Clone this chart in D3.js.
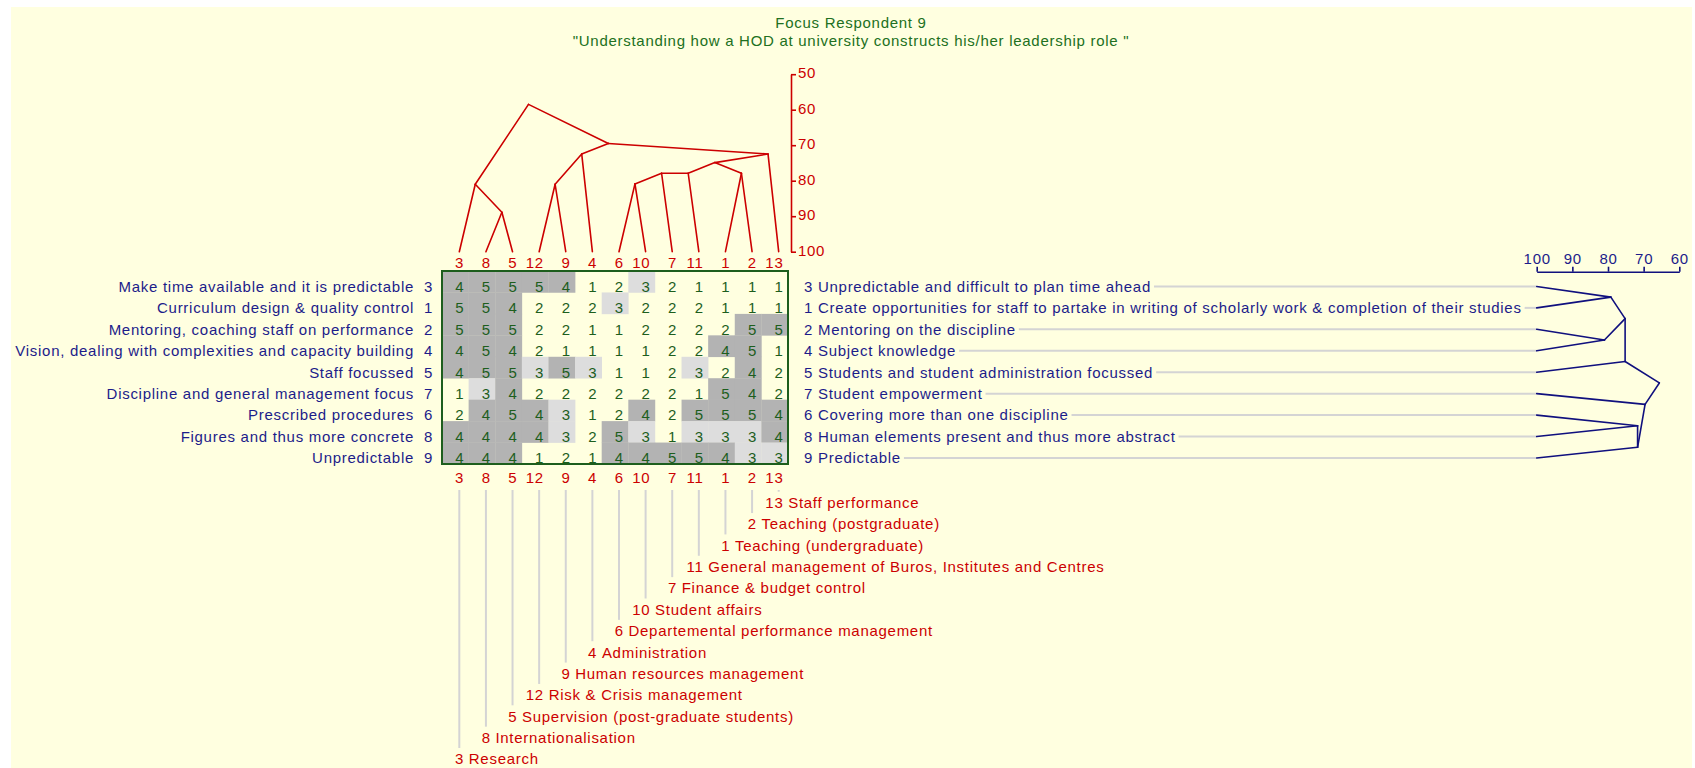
<!DOCTYPE html>
<html>
<head>
<meta charset="utf-8">
<script src="https://cdn.jsdelivr.net/npm/d3@7"></script>
<style>
  html, body { margin: 0; padding: 0; background: #ffffff; }
  svg text { font-family: "Liberation Sans", Arial, sans-serif; font-size: 15px; letter-spacing: 0.72px; }
</style>
</head>
<body>
<svg id="chart" width="1695" height="768"></svg>
<script>
// ---- Grid data -------------------------------------------------------------
const titleLines = ["Focus Respondent 9", "\"Understanding how a HOD at university constructs his/her leadership role \""];

// Elements (columns) in cluster order
const elementIds = [3, 8, 5, 12, 9, 4, 6, 10, 7, 11, 1, 2, 13];
const elementNames = [
  "Research", "Internationalisation", "Supervision (post-graduate students)",
  "Risk & Crisis management", "Human resources management", "Administration",
  "Departemental performance management", "Student affairs", "Finance & budget control",
  "General management of Buros, Institutes and Centres", "Teaching (undergraduate)",
  "Teaching (postgraduate)", "Staff performance"
];

// Constructs (rows) in cluster order
const constructIds = [3, 1, 2, 4, 5, 7, 6, 8, 9];
const leftPoles = [
  "Make time available and it is predictable", "Curriculum design & quality control",
  "Mentoring, coaching staff on performance", "Vision, dealing with complexities and capacity building",
  "Staff focussed", "Discipline and general management focus", "Prescribed procedures",
  "Figures and thus more concrete", "Unpredictable"
];
const rightPoles = [
  "Unpredictable and difficult to plan time ahead",
  "Create opportunities for staff to partake in writing of scholarly work & completion of their studies",
  "Mentoring on the discipline", "Subject knowledge", "Students and student administration focussed",
  "Student empowerment", "Covering more than one discipline",
  "Human elements present and thus more abstract", "Predictable"
];

// Ratings: one row per construct, one column per element
const ratings = [
  [4, 5, 5, 5, 4, 1, 2, 3, 2, 1, 1, 1, 1],
  [5, 5, 4, 2, 2, 2, 3, 2, 2, 2, 1, 1, 1],
  [5, 5, 5, 2, 2, 1, 1, 2, 2, 2, 2, 5, 5],
  [4, 5, 4, 2, 1, 1, 1, 1, 2, 2, 4, 5, 1],
  [4, 5, 5, 3, 5, 3, 1, 1, 2, 3, 2, 4, 2],
  [1, 3, 4, 2, 2, 2, 2, 2, 2, 1, 5, 4, 2],
  [2, 4, 5, 4, 3, 1, 2, 4, 2, 5, 5, 5, 4],
  [4, 4, 4, 4, 3, 2, 5, 3, 1, 3, 3, 3, 4],
  [4, 4, 4, 1, 2, 1, 4, 4, 5, 5, 4, 3, 3]
];

// Element cluster joins: [node, left, right, % similarity]
const elementJoins = [
  ["B", "8", "5", 88.9],
  ["A", "3", "B", 81.0],
  ["C", "12", "9", 81.0],
  ["D", "C", "4", 72.5],
  ["K", "6", "10", 80.9],
  ["L", "K", "7", 77.9],
  ["M", "L", "11", 77.9],
  ["J", "1", "2", 77.9],
  ["H", "M", "J", 74.9],
  ["G", "H", "13", 72.5],
  ["F", "D", "G", 69.5],
  ["E", "A", "F", 58.5]
];

// Construct cluster joins: [node, left, right, % similarity]
const constructJoins = [
  ["P", "3", "1", 79.2],
  ["Q", "2", "4", 81.0],
  ["R", "P", "Q", 75.2],
  ["S", "R", "5", 75.2],
  ["W", "6", "8", 71.7],
  ["V", "W", "9", 71.7],
  ["U", "7", "V", 69.6],
  ["T", "S", "U", 65.6]
];

const similarityTicks = [50, 60, 70, 80, 90, 100];
const rightTicks = [100, 90, 80, 70, 60];

// ---- Colours ---------------------------------------------------------------
const RED = "#cc0000", NAVY = "#1c1c8a", LINE_NAVY = "#10107e", GREEN = "#1d5e1d",
      TITLE_GREEN = "#217021", PALE = "#d4d4d4", DARK_CELL = "#b3b3b3", LIGHT_CELL = "#dddddd";
const FONT = "\"Liberation Sans\", Arial, sans-serif";

// ---- Scales ----------------------------------------------------------------
const svg = d3.select("#chart");
const nCol = elementIds.length, nRow = constructIds.length;
const xCol = d3.scaleLinear().domain([0, nCol]).range([442, 788]);
const yRow = d3.scaleLinear().domain([0, nRow]).range([271, 464]);
const yTop = d3.scaleLinear().domain([50, 100]).range([74.2, 251.7]);
const xRight = d3.scaleLinear().domain([100, 60]).range([1536.7, 1679.3]);
const colX = i => xCol(i + 0.65);
const rowY = i => yRow(i + 0.72);
const fill = d3.scaleThreshold().domain([3, 4]).range(["none", LIGHT_CELL, DARK_CELL]);

// Background panel
svg.append("rect").attr("x", 11).attr("y", 7).attr("width", 1681).attr("height", 761).attr("fill", "#ffffe0");

// Title
svg.selectAll("text.title").data(titleLines).join("text")
  .attr("class", "title")
  .attr("x", 851).attr("y", (d, i) => 27.5 + i * 18.7)
  .attr("text-anchor", "middle").attr("fill", TITLE_GREEN)
  .text(d => d);

// ---- Rating grid -----------------------------------------------------------
const cells = [];
ratings.forEach((row, r) => row.forEach((v, c) => cells.push({ r, c, v })));

svg.append("g").selectAll("rect").data(cells.filter(d => d.v >= 3)).join("rect")
  .attr("x", d => xCol(d.c)).attr("y", d => yRow(d.r))
  .attr("width", xCol(1) - xCol(0) + 0.3).attr("height", yRow(1) - yRow(0) + 0.3)
  .attr("fill", d => fill(d.v));

svg.append("g").selectAll("text").data(cells).join("text")
  .attr("x", d => colX(d.c) + 0.4).attr("y", d => rowY(d.r) + 5.3)
  .attr("text-anchor", "middle").attr("fill", GREEN)
  .text(d => d.v);

svg.append("rect")
  .attr("x", xCol(0)).attr("y", yRow(0))
  .attr("width", xCol(nCol) - xCol(0)).attr("height", yRow(nRow) - yRow(0))
  .attr("fill", "none").attr("stroke", GREEN).attr("stroke-width", 2);

// ---- Row labels ------------------------------------------------------------
const rowsG = svg.append("g");
rowsG.selectAll("text.lp").data(leftPoles).join("text")
  .attr("class", "lp").attr("x", 414).attr("y", (d, i) => rowY(i) + 5.3)
  .attr("text-anchor", "end").attr("fill", NAVY).text(d => d);
rowsG.selectAll("text.ln").data(constructIds).join("text")
  .attr("class", "ln").attr("x", 433).attr("y", (d, i) => rowY(i) + 5.3)
  .attr("text-anchor", "end").attr("fill", NAVY).text(d => d);

const rightText = rowsG.selectAll("text.rp").data(rightPoles).join("text")
  .attr("class", "rp").attr("x", 804).attr("y", (d, i) => rowY(i) + 5.3)
  .attr("fill", NAVY).text((d, i) => constructIds[i] + " " + d);

// Leader lines from the right-hand poles to the construct tree
rightText.each(function (d, i) {
  const end = 804 + this.getComputedTextLength() + 3;
  if (end < xRight(100) - 2) {
    rowsG.append("line")
      .attr("x1", end).attr("x2", xRight(100))
      .attr("y1", rowY(i)).attr("y2", rowY(i))
      .attr("stroke", PALE).attr("stroke-width", 2);
  }
});

// ---- Column labels ---------------------------------------------------------
const colsG = svg.append("g");
colsG.selectAll("text.ct").data(elementIds).join("text")
  .attr("x", (d, i) => colX(i) + 4.8).attr("y", 268)
  .attr("text-anchor", "end").attr("fill", RED).text(d => d);
colsG.selectAll("text.cb").data(elementIds).join("text")
  .attr("x", (d, i) => colX(i) + 4.8).attr("y", 483)
  .attr("text-anchor", "end").attr("fill", RED).text(d => d);

const labelY = i => 502.7 + (nCol - 1 - i) * 21.36;
colsG.selectAll("line.drop").data(elementIds).join("line")
  .attr("x1", (d, i) => colX(i)).attr("x2", (d, i) => colX(i))
  .attr("y1", 490).attr("y2", (d, i) => labelY(i) - 11)
  .attr("stroke", PALE).attr("stroke-width", 2);
colsG.selectAll("text.en").data(elementIds).join("text")
  .attr("x", (d, i) => colX(i) + 4.8).attr("y", (d, i) => labelY(i) + 5.3)
  .attr("text-anchor", "end").attr("fill", RED).text(d => d);
colsG.selectAll("text.et").data(elementNames).join("text")
  .attr("x", (d, i) => colX(i) + 9.5).attr("y", (d, i) => labelY(i) + 5.3)
  .attr("fill", RED).text(d => d);

// ---- Dendrograms -----------------------------------------------------------
// Builds node positions: leaves sit at their column/row; a join sits just past
// the last leaf of its left branch, at its similarity level.
function layout(joins, ids) {
  const nodes = {};
  ids.forEach((id, i) => { nodes[String(id)] = { leaf: true, idx: i, last: i, level: 100 }; });
  joins.forEach(([name, a, b, level]) => {
    nodes[name] = { leaf: false, a, b, level, last: nodes[b].last, split: nodes[a].last };
  });
  return nodes;
}

// Element tree (top, vertical similarity axis)
const eNodes = layout(elementJoins, elementIds);
const ePos = n => n.leaf ? [colX(n.idx), yTop(100)] : [xCol(n.split + 1.25), yTop(n.level)];
const eSegs = [];
elementJoins.forEach(([name, a, b]) => {
  [a, b].forEach(ch => eSegs.push([ePos(eNodes[name]), ePos(eNodes[ch])]));
});
svg.append("g").selectAll("line").data(eSegs).join("line")
  .attr("x1", d => d[0][0]).attr("y1", d => d[0][1])
  .attr("x2", d => d[1][0]).attr("y2", d => d[1][1])
  .attr("stroke", RED).attr("stroke-width", 1.6).attr("stroke-linecap", "round");

const topAxis = svg.append("g").attr("transform", "translate(791,0)")
  .call(d3.axisRight(yTop).tickValues(similarityTicks).tickSize(5).tickSizeOuter(0).tickPadding(2));
topAxis.select(".domain").attr("stroke", RED).attr("stroke-width", 1.6);
topAxis.selectAll(".tick line").attr("stroke", RED).attr("stroke-width", 1.6);
topAxis.selectAll(".tick text").attr("fill", RED).attr("dy", "0.22em")
  .style("font-size", "15px").style("font-family", FONT);

// Construct tree (right, horizontal similarity axis)
const cNodes = layout(constructJoins, constructIds);
const cPos = n => n.leaf ? [xRight(100), rowY(n.idx)] : [xRight(n.level), yRow(n.split + 1.22)];
const cSegs = [];
constructJoins.forEach(([name, a, b]) => {
  [a, b].forEach(ch => cSegs.push([cPos(cNodes[name]), cPos(cNodes[ch])]));
});
svg.append("g").selectAll("line").data(cSegs).join("line")
  .attr("x1", d => d[0][0]).attr("y1", d => d[0][1])
  .attr("x2", d => d[1][0]).attr("y2", d => d[1][1])
  .attr("stroke", LINE_NAVY).attr("stroke-width", 1.6).attr("stroke-linecap", "round");

const rightAxis = svg.append("g").attr("transform", "translate(0,271.7)")
  .call(d3.axisTop(xRight).tickValues(rightTicks).tickSize(5).tickSizeOuter(0).tickPadding(3));
rightAxis.select(".domain").attr("stroke", LINE_NAVY).attr("stroke-width", 1.6);
rightAxis.selectAll(".tick line").attr("stroke", LINE_NAVY).attr("stroke-width", 1.6);
rightAxis.selectAll(".tick text").attr("fill", NAVY)
  .style("font-size", "15px").style("font-family", FONT);
</script>
</body>
</html>
